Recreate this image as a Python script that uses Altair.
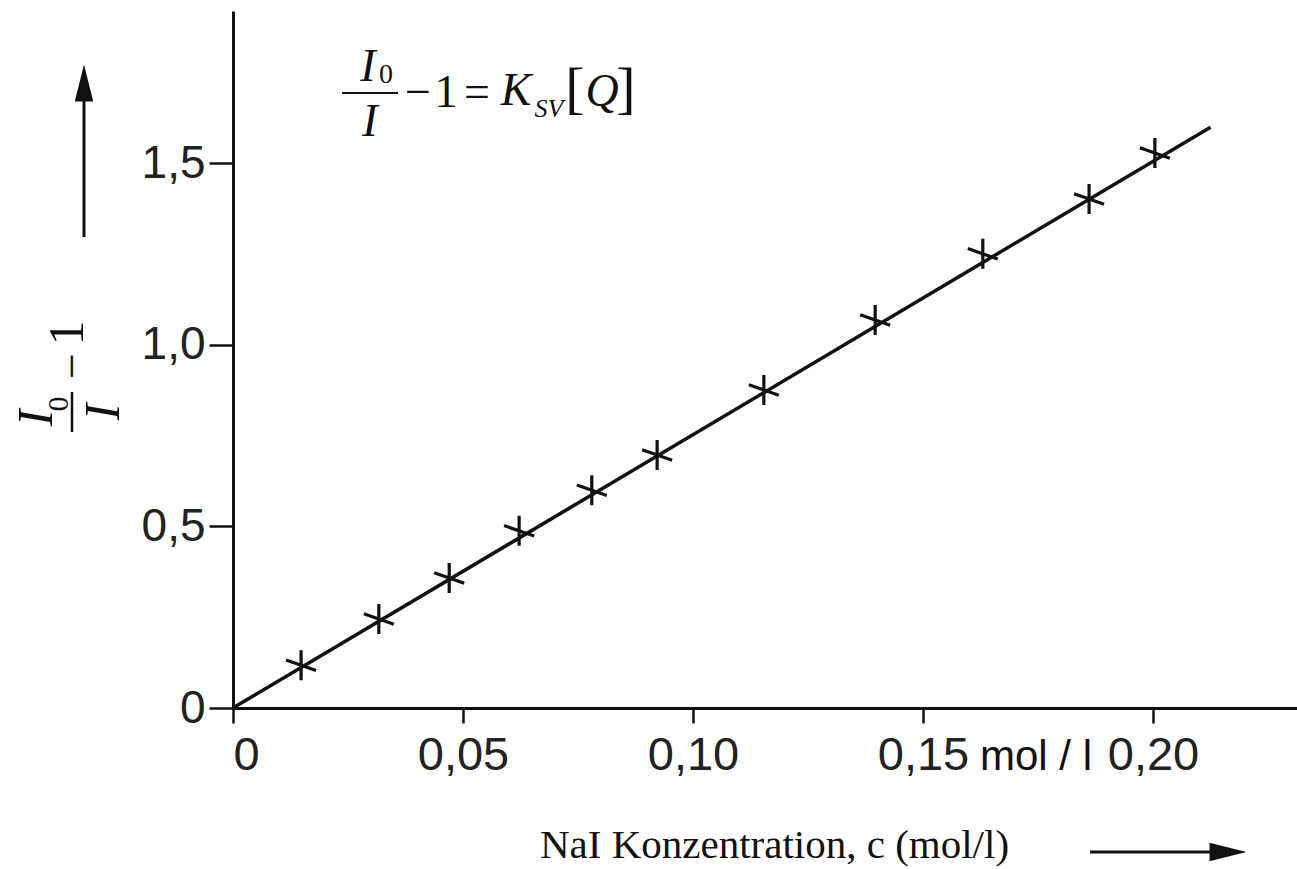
import altair as alt
import pandas as pd

# ---- data ----
conc = [0.0148, 0.0317, 0.0470, 0.0622, 0.0780, 0.0922, 0.1154, 0.1396, 0.1630, 0.1861, 0.2004]
ratio = [0.118, 0.245, 0.358, 0.488, 0.600, 0.697, 0.876, 1.069, 1.251, 1.402, 1.529]
fit_x = [0.0, 0.2125]
fit_y = [0.0, 1.600]
x_ticks = [0.0, 0.05, 0.10, 0.15, 0.20]
y_ticks = [0.0, 0.5, 1.0, 1.5]

W, H = 1064, 697
PADL, PADT = 233, 11
XMAX, YMAX = 0.2313, 1.92

pts = pd.DataFrame({"c": conc, "r": ratio})
fit = pd.DataFrame({"c": fit_x, "r": fit_y})
one = pd.DataFrame({"k": [0]})

xs = alt.Scale(domain=[0, XMAX], nice=False, zero=True)
ys = alt.Scale(domain=[0, YMAX], nice=False, zero=True)

SANS = "Liberation Sans, Arial, sans-serif"
SERIF = "Liberation Serif, serif"

x_axis = alt.Axis(
    values=x_ticks, grid=False, title=None,
    labelExpr="datum.value == 0 ? '0' : replace(format(datum.value, '.2f'), '.', ',')",
    labelFont=SANS, labelFontSize=47,
    labelColor="#222", labelPadding=9,
    domainColor="#111", domainWidth=3, tickColor="#111", tickWidth=2.5, tickSize=15,
)
y_axis = alt.Axis(
    values=y_ticks, grid=False, title=None,
    labelExpr="datum.value == 0 ? '0' : replace(format(datum.value, '.1f'), '.', ',')",
    labelFont=SANS, labelFontSize=46,
    labelColor="#222", labelPadding=4,
    domainColor="#111", domainWidth=3, tickColor="#111", tickWidth=2.5, tickSize=24,
)

line = alt.Chart(fit).mark_line(color="#111", strokeWidth=3.5).encode(
    x=alt.X("c:Q", scale=xs, axis=x_axis),
    y=alt.Y("r:Q", scale=ys, axis=y_axis),
)

star = "M0,-1L0,1M-1,-0.35L1,0.35"
points = alt.Chart(pts).mark_point(
    shape=star, size=900, filled=False, color="#111", strokeWidth=3.2, opacity=1
).encode(
    x=alt.X("c:Q", scale=xs),
    y=alt.Y("r:Q", scale=ys),
)

layers = [line, points]


def glyph(text, x, y, size, italic=False, angle=0, font=SERIF, align="center",
          baseline="middle"):
    kw = dict(text=text, font=font, fontSize=size, color="#111",
              align=align, baseline=baseline)
    if italic:
        kw["fontStyle"] = "italic"
    if angle:
        kw["angle"] = angle
    return alt.Chart(one).mark_text(**kw).encode(
        x=alt.value(x - PADL), y=alt.value(y - PADT)
    )


def rule(x1, y1, x2, y2, w=2.5):
    return alt.Chart(one).mark_rule(color="#111", strokeWidth=w).encode(
        x=alt.value(x1 - PADL), x2=alt.value(x2 - PADL),
        y=alt.value(y1 - PADT), y2=alt.value(y2 - PADT),
    )


# "mol / l" unit after the 0,15 label
layers.append(glyph("mol / l", 1036, 757, 42, font=SANS))

# formula  I0/I - 1 = K_SV [Q]
FY = 93
layers += [
    glyph("I", 368, FY - 26, 46, italic=True),
    glyph("0", 386, FY - 18, 28),
    rule(342, FY, 398, FY, 2),
    glyph("I", 370, FY + 29, 46, italic=True),
    glyph("\u2212", 418, FY, 46),
    glyph("1", 446, FY, 46),
    glyph("=", 477, FY, 46),
    glyph("K", 516, FY - 2, 46, italic=True),
    glyph("SV", 549, FY + 16, 26, italic=True),
    glyph("[", 575, FY - 3, 58),
    glyph("Q", 602, FY - 1, 46, italic=True),
    glyph("]", 626, FY - 3, 58),
]

# rotated y title  I0/I - 1
layers += [
    glyph("I", 37, 418, 50, italic=True, angle=270),
    glyph("0", 59, 404, 30, angle=270),
    rule(72, 392, 72, 432, 2.5),
    glyph("I", 104, 412, 50, italic=True, angle=270),
    glyph("\u2212", 73, 366, 46, angle=270),
    glyph("1", 68, 333, 50, angle=270),
]

# y arrow
layers += [
    rule(84, 237, 84, 90, 3),
    alt.Chart(one).mark_point(shape="M0,-1L0.5,1L-0.5,1Z", size=1369, filled=True,
                              color="#111", opacity=1).encode(
        x=alt.value(84 - PADL), y=alt.value(83 - PADT)),
]

# x title and arrow
layers += [
    glyph("NaI Konzentration, c (mol/l)", 540, 858, 41, align="left",
          baseline="alphabetic"),
    rule(1090, 852, 1222, 852, 3),
    alt.Chart(one).mark_point(shape="M1,0L-1,0.5L-1,-0.5Z", size=1369, filled=True,
                              color="#111", opacity=1).encode(
        x=alt.value(1228 - PADL), y=alt.value(852 - PADT)),
]

chart = alt.layer(*layers).properties(
    width=W, height=H,
    autosize=alt.AutoSizeParams(type="none"),
    padding={"left": PADL, "top": PADT, "right": 0, "bottom": 869 - PADT - H},
    background="white",
).configure_view(stroke=None)

chart.save("out.html", embed_options={"renderer": "svg", "actions": False})
